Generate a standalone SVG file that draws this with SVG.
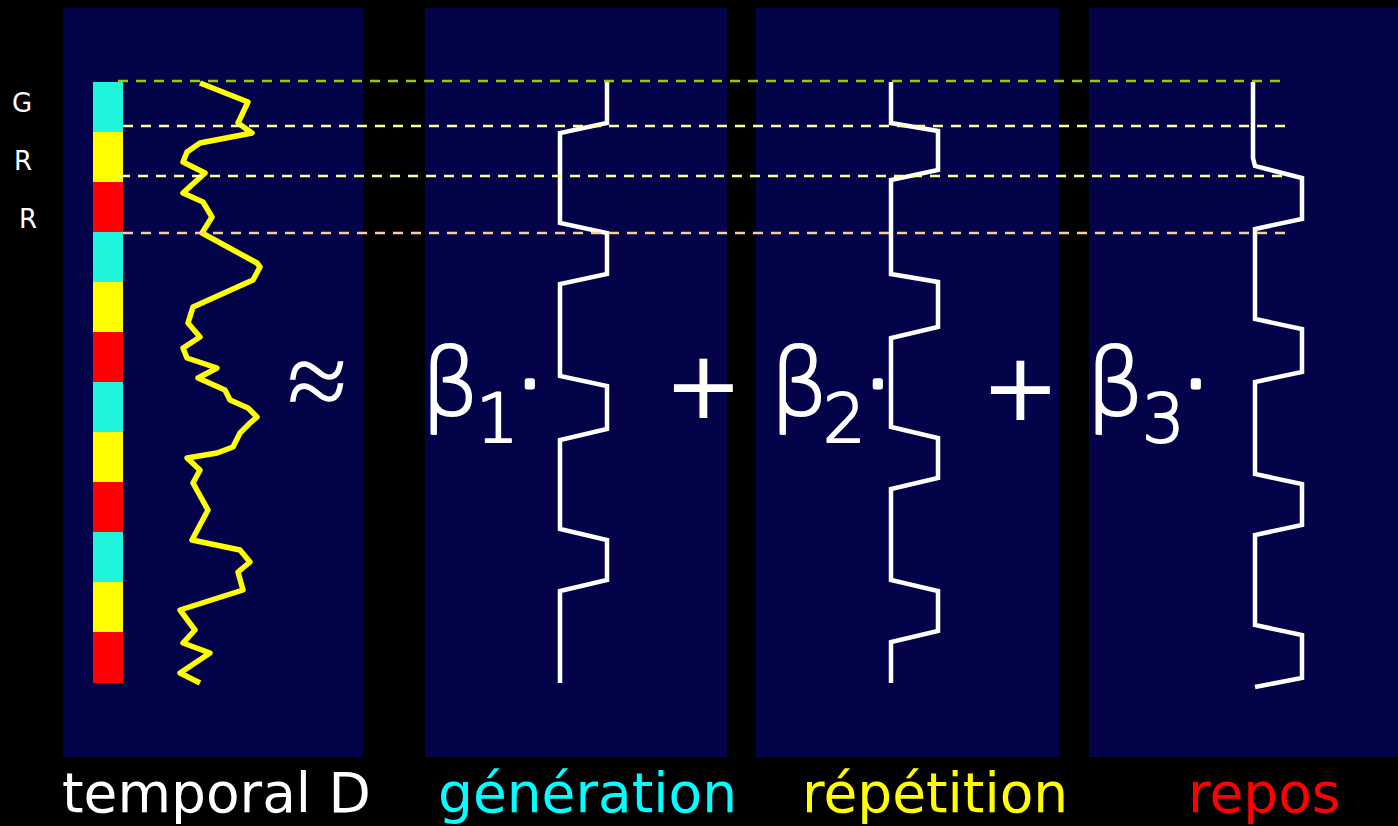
<svg xmlns="http://www.w3.org/2000/svg" width="1398" height="826" viewBox="0 0 1398 826">
<style>
.panel{fill:#03034A}
.wave{fill:none;stroke:#FFFFFF;stroke-width:4.5;stroke-linejoin:miter}
.dash{fill:none;stroke-width:2.5;stroke-dasharray:10 8}
.lbl{font-family:"DejaVu Sans",Verdana,sans-serif;font-size:55px}
.math{font-family:"Liberation Serif","Times New Roman",serif;fill:#FFFFFF}
.beta{font-family:"DejaVu Sans",sans-serif;fill:#FFFFFF;font-size:92px;font-weight:200;stroke:#FFFFFF;stroke-width:2.2;stroke-linejoin:round}
.dot{font-size:100px;stroke-width:5}
.op{font-family:"DejaVu Sans",sans-serif;fill:#FFFFFF;font-size:94px}
.side{font-family:"DejaVu Sans",sans-serif;fill:#FFFFFF;font-size:26px}
</style>
<rect x="0" y="0" width="1398" height="826" fill="#000000"/>
<g id="panel-temporal">
<rect class="panel" x="63" y="8" width="300" height="749"/>
<rect x="93" y="82" width="30" height="50" fill="#1EF5DC"/>
<rect x="93" y="132" width="30" height="50" fill="#FFFF00"/>
<rect x="93" y="182" width="30" height="50" fill="#FF0000"/>
<rect x="93" y="232" width="30" height="50" fill="#1EF5DC"/>
<rect x="93" y="282" width="30" height="50" fill="#FFFF00"/>
<rect x="93" y="332" width="30" height="50" fill="#FF0000"/>
<rect x="93" y="382" width="30" height="50" fill="#1EF5DC"/>
<rect x="93" y="432" width="30" height="50" fill="#FFFF00"/>
<rect x="93" y="482" width="30" height="50" fill="#FF0000"/>
<rect x="93" y="532" width="30" height="50" fill="#1EF5DC"/>
<rect x="93" y="582" width="30" height="50" fill="#FFFF00"/>
<rect x="93" y="632" width="30" height="51" fill="#FF0000"/>
<polyline fill="none" stroke="#FFFF00" stroke-width="5.5" stroke-linejoin="round" points="200,83 248,102 238,123 252,133 200,143 187,152 183,162 205,173 183,193 203,202 212,217 202,233 257,263 260,267 253,280 193,307 188,323 200,337 183,348 187,358 217,368 198,378 225,390 230,400 248,408 257,417 250,423 240,433 233,447 217,453 187,458 200,470 193,483 208,510 192,540 240,550 250,562 238,572 243,590 180,610 195,630 183,643 210,653 180,673 200,683"/>
<text class="lbl" x="62" y="812" fill="#FFFFFF">temporal D</text>
</g>
<g id="side-labels">
<text class="side" x="12" y="112">G</text>
<text class="side" x="14" y="170">R</text>
<text class="side" x="19" y="228">R</text>
</g>
<g id="panel-generation">
<rect class="panel" x="425" y="8" width="302" height="749"/>
<polyline class="wave" points="607,82 607,123 560,133 560,223 607,233 607,274 560,284 560,376 607,386 607,429 560,440 560,529 607,540 607,580 560,591 560,683"/>
<text class="lbl" x="438" y="812" fill="#00FFFF">génération</text>
</g>
<g id="panel-repetition">
<rect class="panel" x="756" y="8" width="303" height="749"/>
<polyline class="wave" points="891,82 891,123 938,131 938,170 891,180 891,274 938,282 938,327 891,338 891,427 938,438 938,478 891,489 891,580 938,591 938,631 891,642 891,683"/>
<text class="lbl" x="802" y="812" fill="#FFFF00">répétition</text>
</g>
<g id="panel-repos">
<rect class="panel" x="1089" y="8" width="309" height="749"/>
<polyline class="wave" points="1253,82 1253,158 1255,166 1302,178 1302,219 1255,229 1255,319 1302,329 1302,372 1255,382 1255,474 1302,484 1302,525 1255,535 1255,625 1302,635 1302,678 1255,687"/>
<text class="lbl" x="1188" y="812" fill="#FF0000">repos</text>
</g>
<g id="connectors">
<line class="dash" x1="118" y1="81" x2="1285" y2="81" stroke="#99CC00"/>
<line class="dash" x1="123" y1="126" x2="1290" y2="126" stroke="#FFFF99"/>
<line class="dash" x1="120" y1="176" x2="1290" y2="176" stroke="#FFFF99"/>
<line class="dash" x1="123" y1="233" x2="1290" y2="233" stroke="#FFCC99"/>
</g>
<g id="equation">
<text class="math" x="287" y="418" font-size="110">≈</text>
<text class="beta" x="421" y="415">β<tspan x="476" y="442" font-size="67">1</tspan><tspan class="dot" x="514" y="418">·</tspan></text>
<text class="op" x="664" y="418">+</text>
<text class="beta" x="770" y="415">β<tspan x="823" y="442" font-size="67">2</tspan><tspan class="dot" x="862" y="418">·</tspan></text>
<text class="op" x="981" y="420">+</text>
<text class="beta" x="1086" y="415">β<tspan x="1142" y="442" font-size="67">3</tspan><tspan class="dot" x="1180" y="418">·</tspan></text>
</g>
</svg>
